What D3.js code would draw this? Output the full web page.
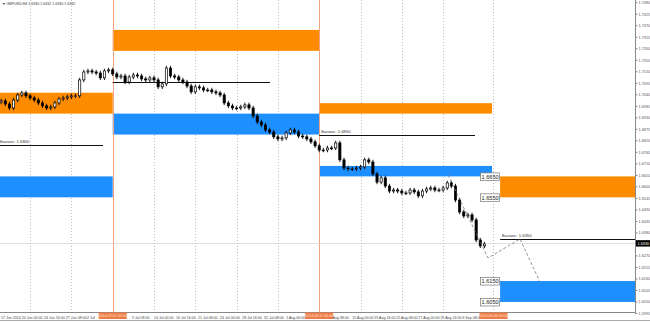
<!DOCTYPE html>
<meta charset="utf-8">
<style>
  body { margin: 0; background: #fff; }
  svg { display: block; font-family: "Liberation Sans", Arial, sans-serif; }
</style>
<body>
<script src="https://cdn.jsdelivr.net/npm/d3@7/dist/d3.min.js"></script>
<script>
// GBPUSD H4, one close per half trading day; day 0 = Mon 2 Jun 2014
var barStart = 11.5, barStep = 0.5, firstOpen = 1.7005;
var closes = [
  1.7011, 1.6996, 1.6977, 1.7015, 1.7039, 1.7049, 1.7035, 1.7025, 1.7015, 1.7001,
  1.6987, 1.6977, 1.6982, 1.7001, 1.7020, 1.7025, 1.7030, 1.7035, 1.7035, 1.7111,
  1.7149, 1.7154, 1.7149, 1.7144, 1.7121, 1.7154, 1.7159, 1.7140, 1.7125, 1.7130,
  1.7101, 1.7125, 1.7135, 1.7130, 1.7116, 1.7111, 1.7121, 1.7111, 1.7078, 1.7092,
  1.7168, 1.7130, 1.7125, 1.7111, 1.7101, 1.7082, 1.7054, 1.7078, 1.7073, 1.7063,
  1.7063, 1.7054, 1.7049, 1.7039, 1.7001, 1.6987, 1.6977, 1.6977, 1.6982, 1.6992,
  1.6977, 1.6939, 1.6910, 1.6896, 1.6872, 1.6862, 1.6839, 1.6829, 1.6834, 1.6858,
  1.6872, 1.6862, 1.6843, 1.6839, 1.6829, 1.6815, 1.6796, 1.6776, 1.6776, 1.6786,
  1.6786, 1.6810, 1.6729, 1.6690, 1.6686, 1.6686, 1.6690, 1.6695, 1.6729, 1.6719,
  1.6662, 1.6623, 1.6643, 1.6604, 1.6580, 1.6585, 1.6580, 1.6571, 1.6571, 1.6585,
  1.6576, 1.6557, 1.6580, 1.6590, 1.6595, 1.6585, 1.6585, 1.6595, 1.6619, 1.6604,
  1.6537, 1.6480, 1.6461, 1.6466, 1.6442, 1.6346, 1.6318, 1.6327
];

// periods: sell zone (orange), buy zone (blue), balance line
var zoneStarts = [11.356, 25, 50, 71.9];
var zoneEnds   = [25, 50, 70.92, 88.23];
var sellHigh = [1.7050, 1.7350, 1.7000, 1.6650];
var sellLow  = [1.6950, 1.7250, 1.6950, 1.6550];
var buyHigh  = [1.6650, 1.6950, 1.6700, 1.6150];
var buyLow   = [1.6550, 1.6850, 1.6650, 1.6050];
var balance    = [1.6800, 1.7100, 1.6850, 1.6350];
var balanceEnd = [23.83, 44.04, 68.86, 88.23];
var balanceText = ["Баланс: 1.6800", "", "Баланс: 1.6850", "Баланс: 1.6350"];
var levelLabels = [1.6650, 1.6550, 1.6150, 1.6050];

// forecast path (dashed)
var pathDays   = [65.59, 70.44, 74.31, 76.73];
var pathPrices = [1.6657, 1.6260, 1.6351, 1.6145];

var monthDays = [25, 50];
var monthBoxDays = [25, 50, 71.1];
var monthBoxText = ["2014.07.07 00:00", "2014.08.11 00:00", "2014.09.08 00:00"];
var gridDays = [15, 20, 25, 30, 35, 40, 45, 50, 55, 60, 65, 71.04];

var timeLabelDays = [11.45, 14, 16.67, 19.33, 21.9, 27.33, 30, 32.67, 35.33, 38,
  40.67, 43.33, 46, 51.6, 54, 56.67, 59.33, 62, 64.67, 67.33];
var timeLabels = ["17 Jun 2014", "20 Jun 00:00", "24 Jun 16:00", "27 Jun 08:00", "2 Jul",
  "9 Jul 08:00", "14 Jul 00:00", "16 Jul 16:00", "21 Jul 08:00", "24 Jul 00:00",
  "28 Jul 16:00", "31 Jul 08:00", "5 Aug 00:00", "Aug 08:00", "15 Aug 00:00",
  "19 Aug 16:00", "22 Aug 08:00", "27 Aug 00:00", "29 Aug 16:00", "3 Sep 08:00"];

var priceTicks = [1.7480, 1.7425, 1.7370, 1.7315, 1.7260, 1.7205, 1.7150, 1.7095, 1.7040,
  1.6985, 1.6930, 1.6875, 1.6820, 1.6765, 1.6710, 1.6655, 1.6600, 1.6545, 1.6490, 1.6435,
  1.6380, 1.6325, 1.6270, 1.6215, 1.6160, 1.6105, 1.6050, 1.5995];
var lastPrice = 1.6330;
var title = "\u25BC GBPUSD,H4  1.6330 1.6332 1.6330 1.6332";

var W = 650, H = 322, plotW = 635, plotH = 312;

var svg = d3.select("body").append("svg")
    .attr("width", W)
    .attr("height", H);

var x = d3.scaleLinear().domain([11.356, 88.23]).range([0, plotW]);
var y = d3.scaleLinear().domain([1.6002, 1.7493]).range([plotH, 0]);

// weekly dotted grid
svg.selectAll(".grid")
    .data(gridDays)
  .enter().append("line")
    .attr("x1", function(d) { return Math.round(x(d)) + 0.5; })
    .attr("x2", function(d) { return Math.round(x(d)) + 0.5; })
    .attr("y1", 0).attr("y2", plotH)
    .attr("stroke", "#b0b0b0")
    .attr("stroke-width", 0.8)
    .attr("stroke-dasharray", "1,2");

// zones
var idx = d3.range(zoneStarts.length);
svg.selectAll(".sell")
    .data(idx)
  .enter().append("rect")
    .attr("x", function(i) { return x(zoneStarts[i]); })
    .attr("width", function(i) { return x(zoneEnds[i]) - x(zoneStarts[i]); })
    .attr("y", function(i) { return y(sellHigh[i]); })
    .attr("height", function(i) { return y(sellLow[i]) - y(sellHigh[i]); })
    .attr("fill", "#ff8c00");

svg.selectAll(".buy")
    .data(idx)
  .enter().append("rect")
    .attr("x", function(i) { return x(zoneStarts[i]); })
    .attr("width", function(i) { return x(zoneEnds[i]) - x(zoneStarts[i]); })
    .attr("y", function(i) { return y(buyHigh[i]); })
    .attr("height", function(i) { return y(buyLow[i]) - y(buyHigh[i]); })
    .attr("fill", "#1e8fff");

// month separators
svg.selectAll(".month")
    .data(monthDays)
  .enter().append("line")
    .attr("x1", function(d) { return Math.round(x(d)) + 0.5; })
    .attr("x2", function(d) { return Math.round(x(d)) + 0.5; })
    .attr("y1", 0).attr("y2", plotH)
    .attr("stroke", "#f2a27c")
    .attr("stroke-width", 1);

// balance lines
svg.selectAll(".bal")
    .data(idx)
  .enter().append("line")
    .attr("x1", function(i) { return x(zoneStarts[i]); })
    .attr("x2", function(i) { return x(balanceEnd[i]); })
    .attr("y1", function(i) { return Math.round(y(balance[i])) + 0.5; })
    .attr("y2", function(i) { return Math.round(y(balance[i])) + 0.5; })
    .attr("stroke", "#111")
    .attr("stroke-width", 1.1);

svg.selectAll(".balText")
    .data(idx)
  .enter().append("text")
    .attr("x", function(i) { return x(zoneStarts[i]) + (i === 0 ? 0 : 2); })
    .attr("y", function(i) { return y(balance[i]) - 2; })
    .attr("font-size", 4.2)
    .attr("fill", "#333")
    .text(function(i) { return balanceText[i]; });

// last price line
svg.append("line")
    .attr("x1", 0).attr("x2", plotW)
    .attr("y1", Math.round(y(lastPrice)) + 0.5)
    .attr("y2", Math.round(y(lastPrice)) + 0.5)
    .attr("stroke", "#d8d8d8")
    .attr("stroke-width", 0.8);

// candles
var bars = closes.map(function(c, i) {
  return { day: barStart + i * barStep, open: i ? closes[i - 1] : firstOpen, close: c };
});
var bw = 2.2;
var candle = svg.selectAll(".candle")
    .data(bars)
  .enter().append("g");

candle.append("line")
    .attr("x1", function(d) { return x(d.day); })
    .attr("x2", function(d) { return x(d.day); })
    .attr("y1", function(d) { return y(Math.max(d.open, d.close)) - 2.2; })
    .attr("y2", function(d) { return y(Math.min(d.open, d.close)) + 2.2; })
    .attr("stroke", "#000")
    .attr("stroke-width", 0.9);

candle.append("rect")
    .attr("x", function(d) { return x(d.day) - bw / 2; })
    .attr("width", bw)
    .attr("y", function(d) { return y(Math.max(d.open, d.close)); })
    .attr("height", function(d) { return Math.max(0.8, Math.abs(y(d.open) - y(d.close))); })
    .attr("fill", function(d) { return d.close >= d.open ? "#fff" : "#000"; })
    .attr("stroke", "#000")
    .attr("stroke-width", 0.7);

// forecast dashed path
svg.append("path")
    .datum(pathDays.map(function(d, i) { return [d, pathPrices[i]]; }))
    .attr("d", d3.line().x(function(d) { return x(d[0]); }).y(function(d) { return y(d[1]); }))
    .attr("fill", "none")
    .attr("stroke", "#777")
    .attr("stroke-width", 0.8)
    .attr("stroke-dasharray", "3,2");

// level price labels
var lvl = svg.selectAll(".lvl")
    .data(levelLabels)
  .enter().append("g")
    .attr("transform", function(d) { return "translate(" + (x(zoneStarts[3]) - 20) + "," + y(d) + ")"; });
lvl.append("rect")
    .attr("x", 0.5).attr("y", -3.5)
    .attr("width", 19).attr("height", 7.5)
    .attr("fill", "#fff")
    .attr("stroke", "#777")
    .attr("stroke-width", 0.7);
lvl.append("text")
    .attr("x", 10).attr("y", 2.3)
    .attr("text-anchor", "middle")
    .attr("font-size", 5.6)
    .attr("fill", "#222")
    .text(function(d) { return d.toFixed(4); });

// axes frame
svg.append("line")
    .attr("x1", 0).attr("x2", plotW + 0.5)
    .attr("y1", plotH + 0.5).attr("y2", plotH + 0.5)
    .attr("stroke", "#888");
svg.append("line")
    .attr("x1", plotW + 0.5).attr("x2", plotW + 0.5)
    .attr("y1", 0).attr("y2", plotH + 0.5)
    .attr("stroke", "#888");
svg.append("line")
    .attr("x1", 0).attr("x2", W)
    .attr("y1", 320.5).attr("y2", 320.5)
    .attr("stroke", "#aaa");

// right price axis
var ticks = svg.selectAll(".ptick")
    .data(priceTicks)
  .enter().append("g")
    .attr("transform", function(d) { return "translate(" + plotW + "," + y(d) + ")"; });
ticks.append("line")
    .attr("x1", 0).attr("x2", 2.5)
    .attr("stroke", "#888");
ticks.append("text")
    .attr("x", 3.5).attr("y", 1.4)
    .attr("font-size", 3.8)
    .attr("fill", "#555")
    .text(function(d) { return d.toFixed(4); });

svg.append("rect")
    .attr("x", plotW + 1).attr("y", y(lastPrice) - 3.2)
    .attr("width", 14).attr("height", 6.4)
    .attr("fill", "#000");
svg.append("text")
    .attr("x", plotW + 2.5).attr("y", y(lastPrice) + 1.4)
    .attr("font-size", 3.8)
    .attr("fill", "#fff")
    .text(lastPrice.toFixed(4));

// time axis labels
svg.selectAll(".tlab")
    .data(timeLabelDays)
  .enter().append("text")
    .attr("x", function(d) { return Math.max(1, x(d)); })
    .attr("y", 318.5)
    .attr("font-size", 3.6)
    .attr("fill", "#444")
    .text(function(d, i) { return timeLabels[i]; });

var box = svg.selectAll(".mbox")
    .data(monthBoxDays)
  .enter().append("g")
    .attr("transform", function(d) { return "translate(" + x(d) + ",316)"; });
box.append("rect")
    .attr("x", -14).attr("y", -3.5)
    .attr("width", 28).attr("height", 6.5)
    .attr("fill", "#f07a45");
box.append("text")
    .attr("y", 1.4)
    .attr("text-anchor", "middle")
    .attr("font-size", 3.6)
    .attr("fill", "#ffe9dc")
    .text(function(d, i) { return monthBoxText[i]; });

// title
svg.append("text")
    .attr("x", 2).attr("y", 4.5)
    .attr("font-size", 3.6)
    .attr("fill", "#333")
    .text(title);
</script>
</body>
